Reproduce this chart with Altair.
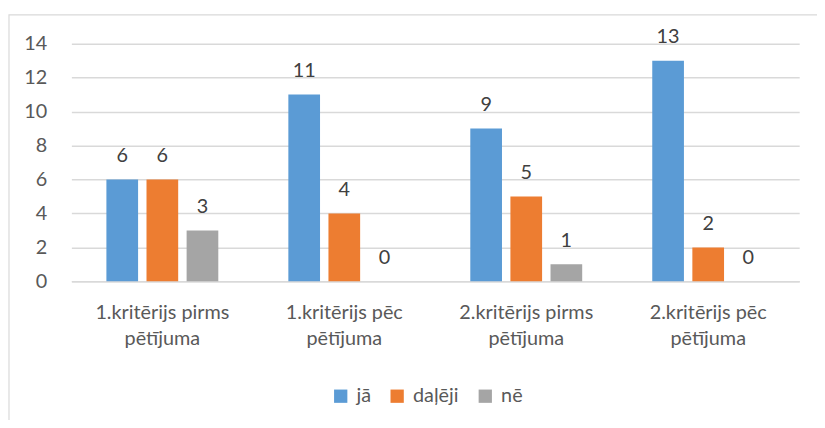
import altair as alt
import pandas as pd

categories = ["1.kritērijs pirms pētījuma", "1.kritērijs pēc pētījuma",
              "2.kritērijs pirms pētījuma", "2.kritērijs pēc pētījuma"]
series = ["jā", "daļēji", "nē"]
ja = [6, 11, 9, 13]
daleji = [6, 4, 5, 2]
ne = [3, 0, 1, 0]
colors = ["#5B9BD5", "#ED7D31", "#A5A5A5"]

rows = []
for s, vals in zip(series, [ja, daleji, ne]):
    for c, v in zip(categories, vals):
        rows.append({"kategorija": c, "sērija": s, "vērtība": v})
df = pd.DataFrame(rows)

FONT = "Lato"
FS = 20

x_enc = alt.X("kategorija:N", sort=categories, title=None,
              scale=alt.Scale(paddingInner=0.385, paddingOuter=0.1925),
              axis=alt.Axis(labelAngle=0, ticks=False, grid=False,
                            domainColor="#D9D9D9", domainWidth=1.5,
                            labelColor="#595959", labelFontSize=FS, labelFont=FONT,
                            labelPadding=22, labelLineHeight=26,
                            labelExpr="[slice(datum.label, 0, lastindexof(datum.label, ' ')), slice(datum.label, lastindexof(datum.label, ' ') + 1)]"))
xo_enc = alt.XOffset("sērija:N", sort=series,
                     scale=alt.Scale(paddingInner=0.21, paddingOuter=0))
y_enc = alt.Y("vērtība:Q", title=None,
              scale=alt.Scale(domain=[0, 14], nice=False),
              axis=alt.Axis(values=[0, 2, 4, 6, 8, 10, 12, 14], ticks=False, domain=False,
                            gridColor="#D9D9D9", gridWidth=1.5,
                            labelColor="#595959", labelFontSize=FS, labelFont=FONT,
                            labelPadding=25))

frame = alt.Chart(pd.DataFrame({"a": [0]})).mark_rect(
    fill="transparent", stroke="#D9D9D9", strokeWidth=1.2
).encode(x=alt.value(-63), x2=alt.value(770), y=alt.value(-29), y2=alt.value(420))

bars = alt.Chart(df).mark_bar().encode(
    x=x_enc, xOffset=xo_enc, y=y_enc,
    color=alt.Color("sērija:N", sort=series, title=None,
                    scale=alt.Scale(domain=series, range=colors),
                    legend=alt.Legend(orient="none", direction="horizontal",
                                      legendX=262, legendY=346,
                                      symbolType="square", symbolSize=180,
                                      symbolStrokeWidth=0, labelOffset=6,
                                      columnPadding=16,
                                      labelFontSize=FS, labelFont=FONT,
                                      labelColor="#595959"))
)

labels = alt.Chart(df).mark_text(
    baseline="alphabetic", dy=-18, fontSize=FS, font=FONT, color="#404040"
).encode(x=x_enc, xOffset=xo_enc, y=y_enc, text="vērtība:Q")

chart = alt.layer(frame, bars, labels).properties(
    width=735, height=240,
    background="white",
    autosize=alt.AutoSizeParams(type="none"),
    padding={"left": 64, "top": 34, "right": 18, "bottom": 138},
).configure_view(stroke=None, strokeWidth=0)

chart.save("out.html", embed_options={"renderer": "svg", "actions": False})
